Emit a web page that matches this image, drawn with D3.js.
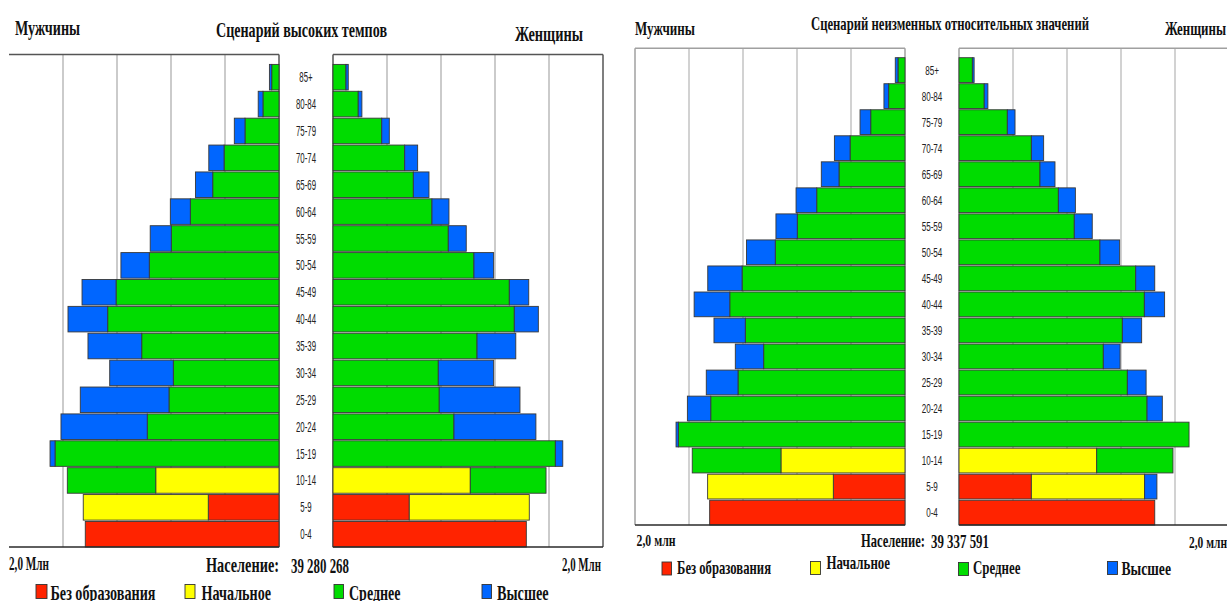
<!DOCTYPE html>
<html>
<head>
<meta charset="utf-8">
<script src="https://cdn.jsdelivr.net/npm/d3@7"></script>
<style>
  body { margin: 0; background: #fff; }
  svg { display: block; }
  text { font-family: "Liberation Serif", "Times New Roman", serif; font-weight: bold; fill: #111; }
  text.age { font-family: "Liberation Sans", Arial, sans-serif; font-weight: normal; fill: #222; }
</style>
</head>
<body>
<svg id="chart" width="1227" height="601"></svg>
<script>
// age groups, bottom to top
var ageGroups = ['0-4', '5-9', '10-14', '15-19', '20-24', '25-29', '30-34', '35-39', '40-44',
  '45-49', '50-54', '55-59', '60-64', '65-69', '70-74', '75-79', '80-84', '85+'];
var eduKeys = ['none', 'primary', 'secondary', 'higher'];
var eduLabels = ['Без образования', 'Начальное', 'Среднее', 'Высшее'];
var eduColors = ['#ff2300', '#ffff00', '#00dc00', '#0066ff'];

// values in thousands
// scenario 1: high rates
var highMaleNone      = [1435, 524, 0, 0, 0, 0, 0, 0, 0, 0, 0, 0, 0, 0, 0, 0, 0, 0];
var highMalePrimary   = [0, 926, 913, 0, 0, 0, 0, 0, 0, 0, 0, 0, 0, 0, 0, 0, 0, 0];
var highMaleSecondary = [0, 0, 655, 1659, 976, 815, 783, 1017, 1269, 1207, 961, 798, 657, 491, 407, 252, 119, 54];
var highMaleHigher    = [0, 0, 0, 37, 639, 657, 471, 398, 294, 252, 210, 156, 148, 128, 113, 79, 35, 17];

var highFemaleNone      = [1432, 565, 0, 0, 0, 0, 0, 0, 0, 0, 0, 0, 0, 0, 0, 0, 0, 0];
var highFemalePrimary   = [0, 889, 1017, 0, 0, 0, 0, 0, 0, 0, 0, 0, 0, 0, 0, 0, 0, 0];
var highFemaleSecondary = [0, 0, 561, 1647, 896, 787, 780, 1067, 1343, 1306, 1044, 854, 733, 595, 531, 361, 187, 96];
var highFemaleHigher    = [0, 0, 0, 55, 607, 598, 410, 287, 178, 144, 146, 133, 126, 116, 96, 56, 27, 17];

// scenario 2: constant relative values
var constMaleNone      = [1447, 531, 0, 0, 0, 0, 0, 0, 0, 0, 0, 0, 0, 0, 0, 0, 0, 0];
var constMalePrimary   = [0, 931, 919, 0, 0, 0, 0, 0, 0, 0, 0, 0, 0, 0, 0, 0, 0, 0];
var constMaleSecondary = [0, 0, 657, 1679, 1439, 1237, 1047, 1183, 1298, 1207, 961, 798, 654, 489, 407, 254, 121, 52];
var constMaleHigher    = [0, 0, 0, 17, 173, 235, 210, 232, 264, 254, 213, 158, 153, 131, 116, 79, 35, 20];

var constFemaleNone      = [1450, 536, 0, 0, 0, 0, 0, 0, 0, 0, 0, 0, 0, 0, 0, 0, 0, 0];
var constFemalePrimary   = [0, 839, 1020, 0, 0, 0, 0, 0, 0, 0, 0, 0, 0, 0, 0, 0, 0, 0];
var constFemaleSecondary = [0, 0, 565, 1704, 1393, 1247, 1069, 1210, 1373, 1309, 1044, 854, 736, 600, 536, 358, 187, 99];
var constFemaleHigher    = [0, 91, 0, 0, 113, 139, 124, 143, 150, 141, 146, 133, 126, 111, 91, 57, 27, 13];

var scaleMax = 2000;
var gridTicks = [400, 800, 1200, 1600];

function toRows(none, primary, secondary, higher) {
  return ageGroups.map(function(age, i) {
    return {age: age, none: none[i], primary: primary[i], secondary: secondary[i], higher: higher[i]};
  });
}

d3.eduPyramid = function module() {
  var maleAxis = 279;
  var femaleAxis = 333;
  var span = 270;
  var frameTop = 54;
  var frameBottom = 547;
  var barTop = 64;
  var outerLeft = false;
  var frameColor = '#555';
  var gridColor = '#aaa';
  var ageSize = 14;
  var ageSqueeze = 0.56;

  function exports(_data) {
    var g = d3.select(this);

    var xMale = d3.scaleLinear().domain([0, scaleMax]).range([maleAxis, maleAxis - span]);
    var xFemale = d3.scaleLinear().domain([0, scaleMax]).range([femaleAxis, femaleAxis + span]);
    var y = d3.scaleBand().domain(ageGroups).range([frameBottom, barTop]).paddingInner(0.05);

    var stack = d3.stack().keys(eduKeys);

    // grid
    var grid = g.append('g').attr('stroke', gridColor).attr('stroke-width', 1.2);
    gridTicks.forEach(function(t) {
      grid.append('line').attr('x1', xMale(t)).attr('x2', xMale(t))
        .attr('y1', frameTop).attr('y2', frameBottom);
      grid.append('line').attr('x1', xFemale(t)).attr('x2', xFemale(t))
        .attr('y1', frameTop).attr('y2', frameBottom);
    });

    // frame
    var frame = g.append('g').attr('stroke', frameColor).attr('stroke-width', 1.5).attr('fill', 'none');
    frame.append('line').attr('x1', xMale(scaleMax)).attr('x2', xMale(0)).attr('y1', frameTop).attr('y2', frameTop);
    frame.append('line').attr('x1', xFemale(0)).attr('x2', xFemale(scaleMax)).attr('y1', frameTop).attr('y2', frameTop);
    frame.append('line').attr('x1', xMale(0)).attr('x2', xMale(0)).attr('y1', frameTop).attr('y2', frameBottom);
    frame.append('line').attr('x1', xFemale(0)).attr('x2', xFemale(0)).attr('y1', frameTop).attr('y2', frameBottom);
    frame.append('line').attr('x1', xFemale(scaleMax)).attr('x2', xFemale(scaleMax)).attr('y1', frameTop).attr('y2', frameBottom);
    if (outerLeft) {
      frame.append('line').attr('x1', xMale(scaleMax)).attr('x2', xMale(scaleMax)).attr('y1', frameTop).attr('y2', frameBottom);
    }

    function drawSide(rows, x, isMale) {
      var series = stack(rows);
      g.append('g').selectAll('g')
        .data(series)
        .enter().append('g')
        .attr('fill', function(d) { return eduColors[eduKeys.indexOf(d.key)]; })
        .selectAll('rect')
        .data(function(d) { return d.filter(function(p) { return p[1] > p[0]; }); })
        .enter().append('rect')
        .attr('x', function(d) { return isMale ? x(d[1]) : x(d[0]); })
        .attr('width', function(d) { return Math.abs(x(d[1]) - x(d[0])); })
        .attr('y', function(d) { return y(d.data.age); })
        .attr('height', y.bandwidth())
        .attr('stroke', '#383838')
        .attr('stroke-width', 0.9);
    }

    drawSide(_data.male, xMale, true);
    drawSide(_data.female, xFemale, false);

    // bottom line over the bars
    var base = g.append('g').attr('stroke', '#2a2a2a').attr('stroke-width', 1.6);
    base.append('line').attr('x1', xMale(scaleMax)).attr('x2', xMale(0)).attr('y1', frameBottom).attr('y2', frameBottom);
    base.append('line').attr('x1', xFemale(0)).attr('x2', xFemale(scaleMax)).attr('y1', frameBottom).attr('y2', frameBottom);

    var cx = (maleAxis + femaleAxis) / 2;
    g.append('g').selectAll('text')
      .data(ageGroups)
      .enter().append('text')
      .attr('class', 'age')
      .attr('text-anchor', 'middle')
      .attr('font-size', ageSize)
      .attr('transform', function(d) {
        return 'translate(' + cx + ',' + (y(d) + y.bandwidth() / 2 + ageSize * 0.36) + ') scale(' + ageSqueeze + ',1)';
      })
      .text(function(d) { return d; });
  }

  exports.maleAxis = function(_x) { if (!arguments.length) return maleAxis; maleAxis = _x; return this; };
  exports.femaleAxis = function(_x) { if (!arguments.length) return femaleAxis; femaleAxis = _x; return this; };
  exports.frameTop = function(_x) { if (!arguments.length) return frameTop; frameTop = _x; return this; };
  exports.frameBottom = function(_x) { if (!arguments.length) return frameBottom; frameBottom = _x; return this; };
  exports.barTop = function(_x) { if (!arguments.length) return barTop; barTop = _x; return this; };
  exports.outerLeft = function(_x) { if (!arguments.length) return outerLeft; outerLeft = _x; return this; };
  exports.frameColor = function(_x) { if (!arguments.length) return frameColor; frameColor = _x; return this; };
  exports.gridColor = function(_x) { if (!arguments.length) return gridColor; gridColor = _x; return this; };
  exports.ageSize = function(_x) { if (!arguments.length) return ageSize; ageSize = _x; return this; };
  exports.ageSqueeze = function(_x) { if (!arguments.length) return ageSqueeze; ageSqueeze = _x; return this; };

  return exports;
};

var svg = d3.select('#chart');

// squeezed serif labels: [text, x, baseline, size, width]
function label(g, t) {
  g.append('text')
    .attr('x', t[1]).attr('y', t[2])
    .attr('font-size', t[3])
    .attr('textLength', t[4])
    .attr('lengthAdjust', 'spacingAndGlyphs')
    .text(t[0]);
}

function legend(g, items) {
  items.forEach(function(it, i) {
    g.append('rect')
      .attr('x', it.sx).attr('y', it.sy)
      .attr('width', it.sw).attr('height', it.sh)
      .attr('fill', eduColors[i])
      .attr('stroke', '#333').attr('stroke-width', 0.9);
    label(g, [eduLabels[i], it.tx, it.ty, it.size, it.len]);
  });
}

// left panel
var chartA = d3.eduPyramid()
  .maleAxis(279).femaleAxis(333)
  .frameTop(54.5).frameBottom(547).barTop(64.4)
  .outerLeft(false).frameColor('#555').gridColor('#a8a8a8')
  .ageSize(14).ageSqueeze(0.56);

svg.append('g')
  .datum({
    male: toRows(highMaleNone, highMalePrimary, highMaleSecondary, highMaleHigher),
    female: toRows(highFemaleNone, highFemalePrimary, highFemaleSecondary, highFemaleHigher)
  })
  .each(chartA);

var textA = svg.append('g');
[
  ['Мужчины', 15, 34.5, 22, 65],
  ['Сценарий высоких темпов', 216, 37, 22, 171],
  ['Женщины', 515, 41, 22, 68],
  ['2,0 Млн', 9, 570, 19, 40],
  ['Население:', 206, 572, 22, 73],
  ['39 280 268', 291, 573, 22, 58],
  ['2,0 Млн', 562, 571, 19, 39]
].forEach(function(t) { label(textA, t); });

legend(textA, [
  {sx: 36, sy: 584.5, sw: 11, sh: 14, tx: 50.5, ty: 600, size: 22, len: 105},
  {sx: 185, sy: 584.5, sw: 10, sh: 14, tx: 201.5, ty: 600, size: 22, len: 69.5},
  {sx: 334, sy: 584.5, sw: 9.5, sh: 14, tx: 349, ty: 600, size: 22, len: 51.5},
  {sx: 482, sy: 584.5, sw: 9.5, sh: 14, tx: 497, ty: 600, size: 22, len: 51.5}
]);

// right panel
var chartB = d3.eduPyramid()
  .maleAxis(905).femaleAxis(959)
  .frameTop(48.3).frameBottom(525).barTop(57.7)
  .outerLeft(true).frameColor('#a0a0a0').gridColor('#b4b4b4')
  .ageSize(13.5).ageSqueeze(0.6);

svg.append('g')
  .datum({
    male: toRows(constMaleNone, constMalePrimary, constMaleSecondary, constMaleHigher),
    female: toRows(constFemaleNone, constFemalePrimary, constFemaleSecondary, constFemaleHigher)
  })
  .each(chartB);

var textB = svg.append('g');
[
  ['Мужчины', 635, 35, 18, 60],
  ['Сценарий неизменных относительных значений', 811, 29.5, 19, 278],
  ['Женщины', 1165, 35, 18, 61],
  ['2,0 млн', 636.5, 546, 17, 39],
  ['Население:', 861, 547, 19.5, 64],
  ['39 337 591', 931, 548, 19.5, 58],
  ['2,0 млн', 1189, 548, 17, 38]
].forEach(function(t) { label(textB, t); });

legend(textB, [
  {sx: 662, sy: 562, sw: 9.5, sh: 13, tx: 677, ty: 573.5, size: 19.5, len: 94},
  {sx: 810.5, sy: 561.5, sw: 10, sh: 13, tx: 826.5, ty: 569, size: 19.5, len: 63.5},
  {sx: 958.5, sy: 562.5, sw: 10, sh: 13, tx: 973, ty: 574, size: 19.5, len: 47.5},
  {sx: 1107.5, sy: 561.5, sw: 10, sh: 13, tx: 1121.5, ty: 575, size: 19.5, len: 49.5}
]);
</script>
</body>
</html>
